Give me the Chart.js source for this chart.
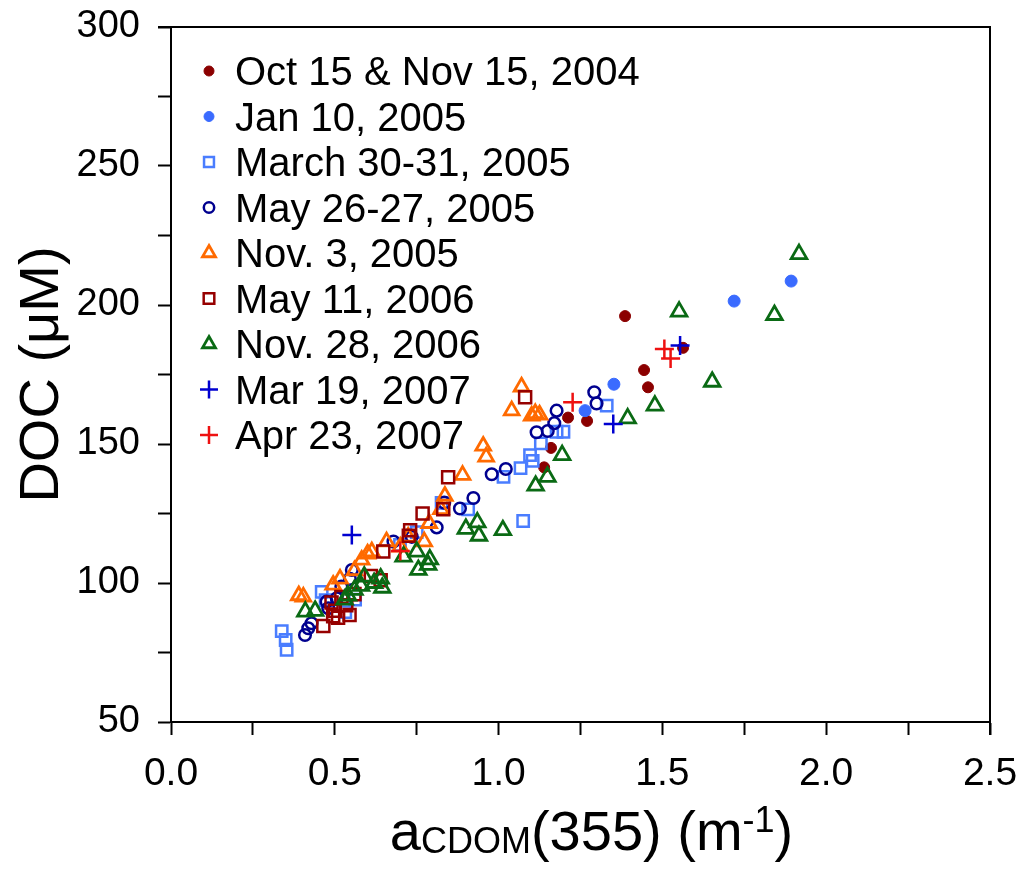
<!DOCTYPE html>
<html>
<head>
<meta charset="utf-8">
<script src="https://cdn.jsdelivr.net/npm/chart.js@4/dist/chart.umd.min.js"></script>
<style>
  html, body { margin: 0; padding: 0; background: #fff; }
  #wrap { position: relative; width: 1019px; height: 875px; }
  #xtitle {
    position: absolute; left: 182px; width: 819px; top: 803px;
    text-align: center; font-family: "Liberation Sans", Arial, sans-serif;
    font-size: 56px; color: #000; white-space: nowrap; line-height: 1;
  }
  #xtitle .sub { font-size: 36px; position: relative; top: 3px; }
  #xtitle .sup { font-size: 36px; position: relative; top: -18px; }
</style>
</head>
<body>
<div id="wrap">
  <canvas id="c" width="1019" height="875"></canvas>
  <div id="xtitle">a<span class="sub">CDOM</span>(355) (m<span class="sup">-1</span>)</div>
</div>
<script>
// Sampling campaigns: [a_CDOM(355) in m^-1, DOC in µM]
const octNov2004 = [[1.386,196.0],[1.444,176.6],[1.456,170.4],[1.563,184.6],[1.212,159.5],[1.270,158.3],[1.160,148.6],[1.139,141.6]];
const jan2005 = [[1.893,208.6],[1.719,201.4],[1.352,171.5],[1.264,162.0]];
const mar2005 = [[0.338,82.7],[0.350,79.5],[0.353,76.0],[0.460,96.8],[0.472,93.8],[0.532,89.5],[0.562,94.0],[0.699,113.7],[0.750,118.3],[0.826,128.8],[0.907,126.5],[1.015,138.2],[1.067,141.3],[1.075,122.3],[1.096,146.0],[1.104,143.9],[1.129,150.2],[1.177,154.4],[1.198,154.4],[1.330,163.8]];
const may2005 = [[0.409,81.3],[0.419,83.7],[0.429,85.5],[0.475,93.3],[0.480,90.9],[0.506,94.5],[0.520,98.7],[0.546,101.5],[0.552,104.7],[0.679,114.9],[0.735,116.6],[0.811,120.0],[0.834,128.9],[0.882,126.8],[0.923,130.6],[0.979,139.1],[1.022,141.0],[1.116,154.2],[1.150,154.7],[1.170,157.5],[1.177,162.0],[1.292,168.6],[1.299,164.6]];
const nov2005 = [[0.390,95.5],[0.404,95.0],[0.495,99.3],[0.516,101.5],[0.560,104.5],[0.582,108.3],[0.600,110.5],[0.613,111.3],[0.658,114.9],[0.700,113.0],[0.724,116.6],[0.773,114.9],[0.788,121.5],[0.824,126.5],[0.836,131.3],[0.890,138.8],[0.953,149.3],[0.962,145.4],[1.040,162.0],[1.070,170.6],[1.101,160.1],[1.112,161.0],[1.125,160.5]];
const may2006 = [[1.081,166.8],[0.846,138.0],[0.831,126.5],[0.768,125.0],[0.730,119.0],[0.726,117.0],[0.648,111.3],[0.610,102.5],[0.640,101.0],[0.465,84.5],[0.490,93.0],[0.500,90.0],[0.510,87.5],[0.520,95.0],[0.535,92.0],[0.545,88.5],[0.560,96.0],[0.495,88.0]];
const nov2006 = [[0.410,89.7],[0.440,90.0],[0.530,94.0],[0.540,95.5],[0.560,97.5],[0.580,99.0],[0.590,102.3],[0.620,100.0],[0.640,101.6],[0.645,98.3],[0.710,109.5],[0.750,111.3],[0.755,104.7],[0.785,106.5],[0.790,108.5],[0.900,119.5],[0.935,121.8],[0.940,117.0],[1.013,119.0],[1.113,135.0],[1.149,138.2],[1.194,146.0],[1.394,159.2],[1.477,163.8],[1.551,197.6],[1.652,172.4],[1.842,196.4],[1.917,218.3]];
const mar2007 = [[1.554,185.4],[1.350,157.2],[0.552,117.3]];
const apr2007 = [[1.506,184.2],[1.525,180.8],[1.226,165.0],[0.700,111.5]];

const seriesLabels = ["Oct 15 & Nov 15, 2004","Jan 10, 2005","March 30-31, 2005","May 26-27, 2005","Nov. 3, 2005","May 11, 2006","Nov. 28, 2006","Mar 19, 2007","Apr 23, 2007"];
const seriesData = [octNov2004, jan2005, mar2005, may2005, nov2005, may2006, nov2006, mar2007, apr2007];

const xTicks = [0, 0.5, 1.0, 1.5, 2.0, 2.5];
const yTicks = [50, 100, 150, 200, 250, 300];

// marker look per campaign; legendRadius is the smaller key symbol
const styles = [
  { pointStyle: 'circle',   radius: 5.5, legendRadius: 5,   color: '#8b0000', fill: true,  width: 1 },
  { pointStyle: 'circle',   radius: 6,   legendRadius: 5,   color: '#3a6bff', fill: true,  width: 1 },
  { pointStyle: 'rect',     radius: 8,   legendRadius: 7,   color: '#4a7dff', fill: false, width: 2.5 },
  { pointStyle: 'circle',   radius: 5.8, legendRadius: 5.2, color: '#00008f', fill: false, width: 2.5 },
  { pointStyle: 'triangle', radius: 8.5, legendRadius: 7.5, color: '#ff6a00', fill: false, width: 2.8 },
  { pointStyle: 'rect',     radius: 8.5, legendRadius: 7.5, color: '#960000', fill: false, width: 2.5 },
  { pointStyle: 'triangle', radius: 9,   legendRadius: 7.5, color: '#0a6a14', fill: false, width: 2.8 },
  { pointStyle: 'cross',    radius: 9.5, legendRadius: 9,   color: '#0000d0', fill: false, width: 2.5 },
  { pointStyle: 'cross',    radius: 9.5, legendRadius: 9,   color: '#ee1111', fill: false, width: 2.5 }
];

const datasets = seriesData.map((pts, i) => ({
  label: seriesLabels[i],
  data: pts.map(p => ({ x: p[0], y: p[1] })),
  pointStyle: styles[i].pointStyle,
  pointRadius: styles[i].radius,
  borderColor: styles[i].color,
  backgroundColor: styles[i].fill ? styles[i].color : 'rgba(0,0,0,0)',
  pointBorderWidth: styles[i].width,
  showLine: false,
  order: seriesData.length - i
}));

const FONT = '"Liberation Sans", Arial, sans-serif';

// closed frame around the plotting area
const framePlugin = {
  id: 'frame',
  afterDatasetsDraw(chart) {
    const { ctx, chartArea: a } = chart;
    ctx.save();
    ctx.strokeStyle = '#000';
    ctx.lineWidth = 2;
    ctx.beginPath();
    ctx.moveTo(a.left - 13, a.top);
    ctx.lineTo(a.right, a.top);
    ctx.lineTo(a.right, a.bottom + 13);
    ctx.stroke();
    ctx.restore();
  }
};

// key drawn inside the plot, upper left
const legendPlugin = {
  id: 'innerLegend',
  afterDraw(chart) {
    const ctx = chart.ctx;
    const mx = 209, tx = 235, y0 = 71, dy = 45.5;
    ctx.save();
    chart.data.datasets.forEach((ds, i) => {
      const y = y0 + dy * i;
      ctx.fillStyle = ds.backgroundColor;
      ctx.strokeStyle = ds.borderColor;
      ctx.lineWidth = ds.pointBorderWidth;
      Chart.helpers.drawPoint(ctx, {
        pointStyle: ds.pointStyle,
        radius: styles[i].legendRadius,
        rotation: 0,
        borderWidth: ds.pointBorderWidth
      }, mx, y);
      ctx.fillStyle = '#000';
      ctx.font = '40px ' + FONT;
      ctx.textBaseline = 'alphabetic';
      ctx.textAlign = 'left';
      ctx.fillText(ds.label, tx, y + 14);
    });
    ctx.restore();
  }
};

// keep the plotting area fixed: no extra room reserved for overhanging tick labels
const noOverhang = s => { s.paddingTop = 0; s.paddingBottom = 0; s.paddingLeft = 0; s.paddingRight = 0; };

new Chart(document.getElementById('c'), {
  type: 'scatter',
  data: { datasets },
  options: {
    responsive: false,
    animation: false,
    events: [],
    layout: { padding: { top: 27, right: 29, left: 0, bottom: 0 } },
    plugins: { legend: { display: false }, tooltip: { enabled: false } },
    scales: {
      x: {
        type: 'linear', min: 0, max: 2.5,
        afterBuildTicks: s => { s.ticks = [0,0.25,0.5,0.75,1,1.25,1.5,1.75,2,2.25,2.5].map(v => ({ value: v })); },
        afterFit: s => { s.height = 153; noOverhang(s); },
        ticks: {
          autoSkip: false, maxRotation: 0, minRotation: 0,
          color: '#000', font: { size: 39, family: FONT }, padding: 16,
          callback: v => xTicks.some(t => Math.abs(t - v) < 1e-9) ? v.toFixed(1) : ''
        },
        grid: { drawOnChartArea: false, drawTicks: true, tickLength: 13, tickWidth: 2, tickColor: '#000' },
        border: { display: true, color: '#000', width: 2 }
      },
      y: {
        type: 'linear', min: 50, max: 300,
        afterBuildTicks: s => { s.ticks = [50,75,100,125,150,175,200,225,250,275,300].map(v => ({ value: v })); },
        afterFit: s => { s.width = 171; noOverhang(s); },
        ticks: {
          autoSkip: false, color: '#000', font: { size: 38, family: FONT }, padding: 18,
          callback: v => yTicks.includes(v) ? String(v) : ''
        },
        title: { display: true, text: 'DOC (μM)', color: '#000', font: { size: 56, family: FONT }, padding: { top: 9, bottom: 0 } },
        grid: { drawOnChartArea: false, drawTicks: true, tickLength: 13, tickWidth: 2, tickColor: '#000' },
        border: { display: true, color: '#000', width: 2 }
      }
    }
  },
  plugins: [framePlugin, legendPlugin]
});
</script>
</body>
</html>
